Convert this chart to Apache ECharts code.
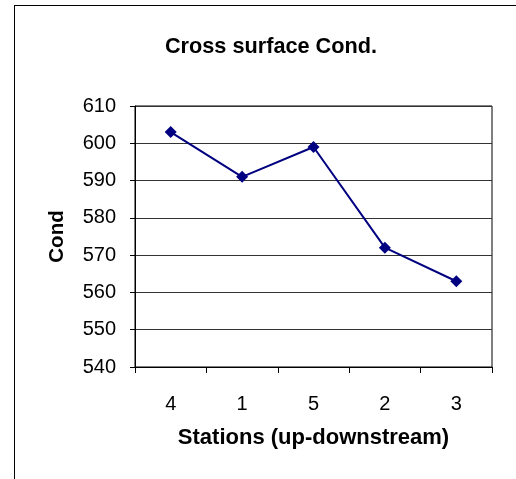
<!DOCTYPE html>
<html>
<head>
<meta charset="utf-8">
<script src="https://cdn.jsdelivr.net/npm/echarts@6/dist/echarts.min.js"></script>
<style>html,body{margin:0;padding:0;background:#fff}#c{width:516px;height:479px}</style>
</head>
<body>
<div id="c"></div>
<script>
var categories = ['4', '1', '5', '2', '3'];
var condValues = [603, 591, 599, 572, 563];
var yMin = 540, yMax = 610, yStep = 10;

var chart = echarts.init(document.getElementById('c'), null, {renderer: 'canvas'});
var font = '"Liberation Sans", Arial, sans-serif';
chart.setOption({
  animation: false,
  backgroundColor: '#fff',
  title: {
    text: 'Cross surface Cond.',
    left: 266, top: 31, textAlign: 'center',
    textStyle: {fontFamily: font, fontSize: 21.7, fontWeight: 'bold', color: '#000'}
  },
  graphic: [
    {type: 'line', shape: {x1: 14, y1: 5.5, x2: 516, y2: 5.5}, style: {stroke: '#000', lineWidth: 1}},
    {type: 'line', shape: {x1: 14.5, y1: 5, x2: 14.5, y2: 479}, style: {stroke: '#000', lineWidth: 1}}
  ],
  grid: {left: 135, right: 24, top: 106, bottom: 112, show: true, borderColor: '#000', borderWidth: 1, backgroundColor: 'transparent'},
  xAxis: {
    type: 'category', data: categories, boundaryGap: true,
    name: 'Stations (up-downstream)', nameLocation: 'middle', nameGap: 60,
    nameTextStyle: {fontFamily: font, fontSize: 22, fontWeight: 'bold', color: '#000'},
    axisLine: {lineStyle: {color: '#000', width: 1}},
    axisTick: {show: true, length: 6, inside: false, lineStyle: {color: '#000'}},
    axisLabel: {fontFamily: font, fontSize: 20, color: '#000', margin: 27},
    splitLine: {show: false}
  },
  yAxis: {
    type: 'value', min: yMin, max: yMax, interval: yStep,
    name: 'Cond', nameLocation: 'middle', nameGap: 67, nameRotate: 90,
    nameTextStyle: {fontFamily: font, fontSize: 20.5, fontWeight: 'bold', color: '#000'},
    axisLine: {show: true, lineStyle: {color: '#000', width: 1}},
    axisTick: {show: true, length: 5, lineStyle: {color: '#000'}},
    axisLabel: {fontFamily: font, fontSize: 20, color: '#000', margin: 19},
    splitLine: {show: true, lineStyle: {color: '#333', width: 1}}
  },
  series: [{
    type: 'line', data: condValues,
    symbol: 'diamond', symbolSize: 12,
    lineStyle: {color: '#000080', width: 2},
    itemStyle: {color: '#000080'}
  }]
});
</script>
</body>
</html>
